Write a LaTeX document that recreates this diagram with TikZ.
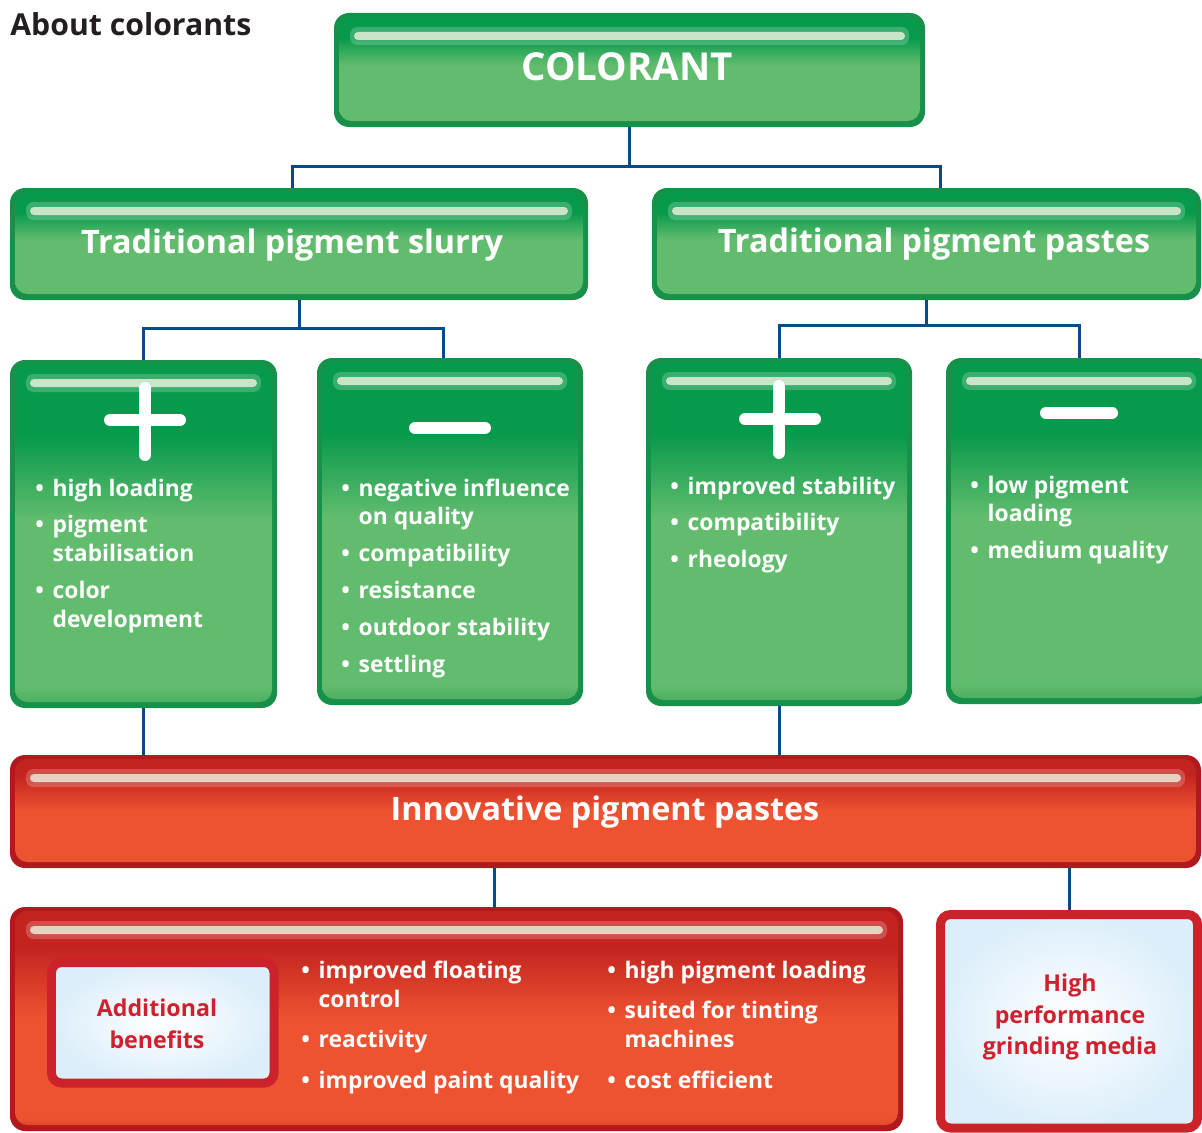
\documentclass[tikz,border=0pt]{standalone}
\usepackage{fontspec}
\setmainfont{Open Sans}
\usepackage{xcolor}
\usetikzlibrary{fit,calc}

\definecolor{gedge}{HTML}{17904A}
\definecolor{gtop}{HTML}{089A4C}
\definecolor{glow}{HTML}{62BC6E}
\definecolor{gbot}{HTML}{45AA5C}
\definecolor{redge}{HTML}{B01A1C}
\definecolor{rtop}{HTML}{C42420}
\definecolor{rlow}{HTML}{EE5331}
\definecolor{rbot}{HTML}{D83E25}
\definecolor{shine}{HTML}{EEF2DE}
\definecolor{linkblue}{HTML}{0C4A87}
\definecolor{wborder}{HTML}{CC2229}
\definecolor{wblue}{HTML}{DCEEFA}
\definecolor{rtext}{HTML}{D0202E}
\definecolor{headtext}{HTML}{231F20}

\pgfdeclareverticalshading{gglass}{100bp}{color(0bp)=(gbot); color(25bp)=(gbot); color(28bp)=(glow); color(52bp)=(glow); color(64bp)=(gtop); color(75bp)=(gtop); color(100bp)=(gtop)}
\pgfdeclareverticalshading{rglass}{100bp}{color(0bp)=(rbot); color(25bp)=(rbot); color(28bp)=(rlow); color(50bp)=(rlow); color(66bp)=(rtop); color(75bp)=(rtop); color(100bp)=(rtop)}

\tikzset{
  glassbox/.style={rectangle, inner sep=0, rounded corners=0.3cm, fill=#1edge,
    path picture={
      \shade[shading=#1glass, rounded corners=0.25cm]
        ($(path picture bounding box.north west)+(5,4)$) rectangle ($(path picture bounding box.south east)+(-5,-6)$);
      \fill[white, opacity=0.2, rounded corners=0.15cm]
        ($(path picture bounding box.north west)+(16,14)$) rectangle ($(path picture bounding box.north east)+(-16,32)$);
      \fill[shine, opacity=0.8, rounded corners=0.08cm]
        ($(path picture bounding box.north west)+(20,19)$) rectangle ($(path picture bounding box.north east)+(-20,27)$);
    }},
  greenbox/.style={glassbox=g},
  redbox/.style={glassbox=r},
  whitebox/.style={rectangle, inner sep=0, rounded corners=0.2cm, draw=wborder,
    line width=0.18cm, inner color=white, outer color=wblue},
  title/.style={text=white, font=\bfseries\fontsize{18.4}{22}\selectfont},
  bullets/.style={anchor=base west, inner sep=0, text=white,
    font=\bfseries\fontsize{13}{16.5}\selectfont},
  redtext/.style={text=rtext, align=center, font=\bfseries\fontsize{13.2}{18.1}\selectfont},
  link/.style={draw=linkblue, line width=0.06cm},
  sign/.style={white, line width=0.24cm, line cap=round},
}

\begin{document}
\begin{tikzpicture}[x=0.02cm, y=-0.02cm]
  \useasboundingbox (0,0) rectangle (1202,1132);

  \node[anchor=west, inner sep=0, text=headtext, font=\bfseries\fontsize{17.2}{20}\selectfont] (about) at (10,24) {About colorants};

  % boxes
  \node[greenbox, fit={(334,13) (925,127)}] (colorant) {};
  \node[greenbox, fit={(10,188) (588,300)}] (slurry) {};
  \node[greenbox, fit={(652,188) (1201,300)}] (pastes) {};
  \node[greenbox, fit={(10,360) (277,708)}] (plus1) {};
  \node[greenbox, fit={(317,358) (583,705)}] (minus1) {};
  \node[greenbox, fit={(646,358) (912,706)}] (plus2) {};
  \node[greenbox, fit={(946,358) (1212,704)}] (minus2) {};
  \node[redbox, fit={(10,755) (1201,868)}] (innov) {};
  \node[redbox, fit={(10,907) (903,1131)}] (bottom) {};
  \node[whitebox, fit={(51.5,962.5) (274,1083)}] (benefits) {};
  \node[whitebox, fit={(940.5,914.5) (1197.5,1128)}] (grind) {};

  % titles
  \node[title, font=\bfseries\fontsize{21.9}{26}\selectfont] (colorant-t) at (627,67) {COLORANT};
  \node[title] (slurry-t) at (292,245) {Traditional pigment slurry};
  \node[title] (pastes-t) at (934,244) {Traditional pigment pastes};
  \node[title] (innov-t) at (605,812) {Innovative pigment pastes};

  % plus and minus
  \draw[sign] (110,420) -- (180,420) (145,388) -- (145,455);
  \draw[sign] (415,428) -- (485,428);
  \draw[sign] (745,419) -- (815,419) (779,386) -- (779,453);
  \draw[sign] (1046,413) -- (1112,413);

  % lists
  \node[bullets] (plus1-l) at (35,496) {\begin{tabular}[t]{@{}l@{\hspace{5pt}}l@{}}
    • & high loading\\[4.5pt]
    • & pigment\\ & stabilisation\\[4.5pt]
    • & color\\ & development
  \end{tabular}};
  \node[bullets] (minus1-l) at (341,496) {\begin{tabular}[t]{@{}l@{\hspace{5pt}}l@{}}
    • & negative influence\\ & on quality\\[4.5pt]
    • & compatibility\\[4.5pt]
    • & resistance\\[4.5pt]
    • & outdoor stability\\[4.5pt]
    • & settling
  \end{tabular}};
  \node[bullets] (plus2-l) at (670,494) {\begin{tabular}[t]{@{}l@{\hspace{5pt}}l@{}}
    • & improved stability\\[4.5pt]
    • & compatibility\\[4.5pt]
    • & rheology
  \end{tabular}};
  \node[bullets] (minus2-l) at (970,493) {\begin{tabular}[t]{@{}l@{\hspace{5pt}}l@{}}
    • & low pigment\\ & loading\\[4.5pt]
    • & medium quality
  \end{tabular}};
  \node[bullets] (bottom-l1) at (301,978) {\begin{tabular}[t]{@{}l@{\hspace{5pt}}l@{}}
    • & improved floating\\ & control\\[6.8pt]
    • & reactivity\\[6.8pt]
    • & improved paint quality
  \end{tabular}};
  \node[bullets] (bottom-l2) at (607,978) {\begin{tabular}[t]{@{}l@{\hspace{5pt}}l@{}}
    • & high pigment loading\\[6.8pt]
    • & suited for tinting\\ & machines\\[6.8pt]
    • & cost efficient
  \end{tabular}};

  \node[redtext] (benefits-t) at (157,1024) {Additional\\benefits};
  \node[redtext] (grind-t) at (1070,1017) {High\\performance\\grinding media};

  % connectors
  \draw[link] (colorant.south) -- ++(0,39) coordinate (c-mid);
  \draw[link] ([xshift=-0.14cm]slurry.north) |- (c-mid) -| ([xshift=0.27cm]pastes.north);
  \draw[link] (slurry.south) -- ++(0,28) coordinate (s-mid);
  \draw[link] (plus1.north) |- (s-mid) -| ([xshift=-0.14cm]minus1.north);
  \draw[link] (pastes.south) -- ++(0,25) coordinate (p-mid);
  \draw[link] (plus2.north) |- (p-mid) -| (minus2.north);
  \draw[link] (plus1.south) -- (plus1.south |- innov.north);
  \draw[link] (plus2.south) -- (plus2.south |- innov.north);
  \draw[link] (innov.south -| 494,0) -- (bottom.north -| 494,0);
  \draw[link] (innov.south -| grind.north) -- (grind.north);
\end{tikzpicture}
\end{document}
